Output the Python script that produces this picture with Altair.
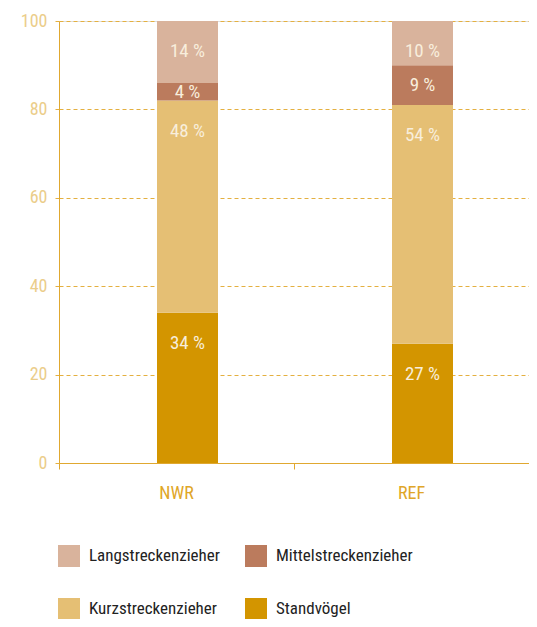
import altair as alt
import pandas as pd

groups = ["NWR", "REF"]
categories = ["Standvögel", "Kurzstreckenzieher", "Mittelstreckenzieher", "Langstreckenzieher"]
nwr_values = [34, 48, 4, 14]
ref_values = [27, 54, 9, 10]
colors = ["#d39500", "#e5bf74", "#bb7b5d", "#d9b39c"]
# legend fills column by column: column 1 = Lang, Kurz ; column 2 = Mittel, Stand
legend_order = ["Langstreckenzieher", "Kurzstreckenzieher", "Mittelstreckenzieher", "Standvögel"]
y_ticks = [0, 20, 40, 60, 80, 100]

rows = []
for g, vals in zip(groups, [nwr_values, ref_values]):
    for i, (c, v) in enumerate(zip(categories, vals)):
        rows.append({"group": g, "category": c, "value": v, "order": i,
                     "label": f"{v} %"})
df = pd.DataFrame(rows)

FONT = "Liberation Sans Narrow, Roboto Condensed, DejaVu Sans Condensed, sans-serif"
GOLD = "#e0a830"
GRID = "#e4b040"

color_map = dict(zip(categories, colors))

x_enc = alt.X("group:N", sort=groups, title=None,
              scale=alt.Scale(paddingInner=0, paddingOuter=0),
              axis=alt.Axis(labelAngle=0, bandPosition=0,
                            labelColor="#e0a628", labelFontSize=18, labelFont=FONT,
                            labelPadding=15, tickSize=6, tickColor=GOLD,
                            domainColor=GOLD, grid=False))

base = alt.Chart(df).transform_stack(
    stack="value", groupby=["group"], as_=["y0", "y1"],
    sort=[alt.SortField("order", order="ascending")]
).transform_calculate(mid="(datum.y0 + datum.y1) / 2")

bars = base.mark_bar(width=61, xOffset=11).encode(
    x=x_enc,
    y=alt.Y("y1:Q", title=None, scale=alt.Scale(domain=[0, 100], nice=False),
            axis=alt.Axis(values=y_ticks, labelColor="#ebcd8a", labelFontSize=18,
                          labelFont=FONT, labelPadding=7, tickSize=5, tickColor=GRID,
                          tickDash=[4, 3], grid=True, gridColor=GRID, gridDash=[4, 3],
                          gridWidth=1, domainColor=GOLD)),
    y2="y0:Q",
    color=alt.Color("category:N",
                    scale=alt.Scale(domain=legend_order,
                                    range=[color_map[c] for c in legend_order]),
                    legend=alt.Legend(orient="none", legendX=-1, legendY=524,
                                      columns=2, title=None, symbolType="square",
                                      symbolSize=484, symbolStrokeWidth=0,
                                      symbolOpacity=1, labelFont=FONT,
                                      labelFontSize=17, labelColor="#222222",
                                      labelOffset=9, rowPadding=31,
                                      columnPadding=25, padding=0)),
)

text_top = base.transform_filter(
    alt.datum.category != "Mittelstreckenzieher"
).mark_text(xOffset=11, dy=30, color="#f8eedc", fontSize=19, font=FONT,
            baseline="middle").encode(
    x=alt.X("group:N", sort=groups),
    y="y1:Q",
    text="label:N",
)

text_mid = base.transform_filter(
    alt.datum.category == "Mittelstreckenzieher"
).mark_text(xOffset=11, color="#f8eedc", fontSize=19, font=FONT,
            baseline="middle").encode(
    x=alt.X("group:N", sort=groups),
    y="mid:Q",
    text="label:N",
)

chart = alt.layer(bars, text_top, text_mid).properties(
    width=470, height=442,
    autosize=alt.AutoSizeParams(type="none"),
    padding={"left": 51, "top": 13, "right": 0, "bottom": 156},
).configure_view(stroke=None).configure(background="white")

chart.save("out.html", embed_options={"renderer": "svg", "actions": False})
